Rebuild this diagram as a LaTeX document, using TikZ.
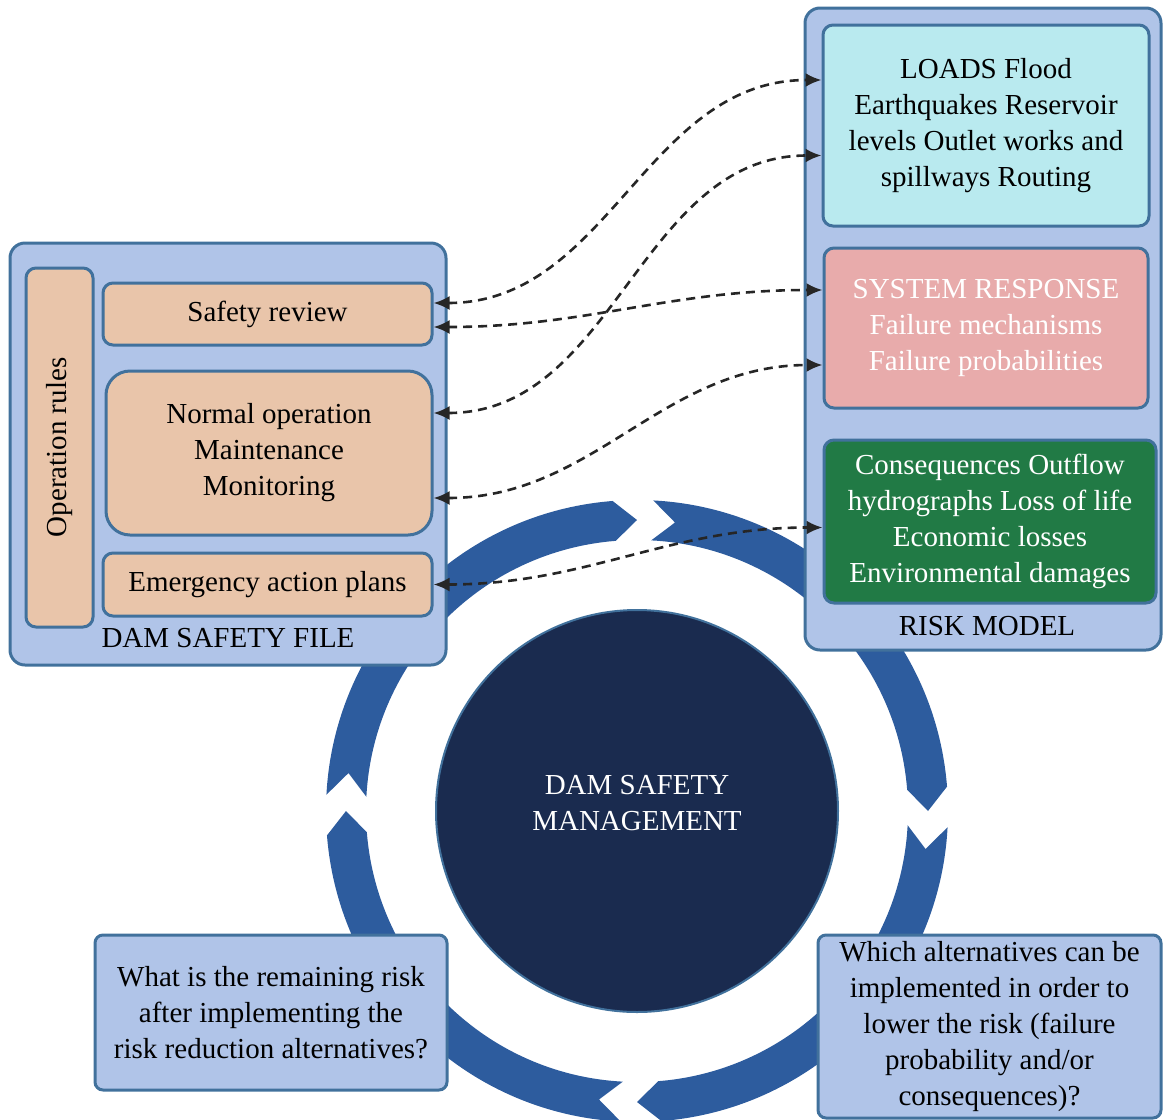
\documentclass[tikz,border=0pt]{standalone}
\usepackage{fontspec}
\setmainfont{Liberation Serif}
\usetikzlibrary{
        arrows.meta,
        positioning
    }
\definecolor{boxblue}{RGB}{176,196,232}
\definecolor{edgeblue}{RGB}{65,113,156}
\definecolor{tan}{RGB}{233,197,170}
\definecolor{loadcyan}{RGB}{185,234,239}
\definecolor{respink}{RGB}{232,171,171}
\definecolor{consgreen}{RGB}{33,122,69}
\definecolor{ringblue}{RGB}{45,92,158}
\definecolor{navy}{RGB}{26,43,79}
\tikzset{auto,node distance=1cm}
\tikzset{box/.style={draw=edgeblue,line width=1.5pt,rounded corners=5pt,inner sep=0pt,align=center,font=\fontsize{14.5}{18}\selectfont}}
\tikzset{frame/.style={box,fill=boxblue,rounded corners=7.5pt}}
\tikzset{task/.style={box,fill=tan}}
\tikzset{dashline/.style={dash pattern=on 4.5pt off 3pt,line width=1.3pt,black!85,
    {Latex[length=8pt,width=7pt]}-{Latex[length=8pt,width=7pt]}}}

\begin{document}
\begin{tikzpicture}[x=0.5pt,y=0.5pt]
                \useasboundingbox (0,0) rectangle (1163,-1120);
                % ring of four chevron arrows
                \begin{scope}[shift={(637,-811)}]
                \foreach \e in {90,0,-90,-180}
                    \fill[ringblue] ({\e+87}:311) arc[start angle=\e+87,end angle=\e+4.5,radius=311]
                        -- (\e:291) -- ({\e+4.5}:271) arc[start angle=\e+4.5,end angle=\e+87,radius=271]
                        -- ({\e+82.5}:291) -- cycle;
                \end{scope}
                \node[circle,fill=navy,draw=edgeblue,line width=1pt,minimum size=201pt] (dsm) at (637,-811) {};
                \node[align=center,text=white,font=\fontsize{14.5}{18}\selectfont] (dsmtext) at (637,-803) {DAM SAFETY\\MANAGEMENT};
                % dam safety file
                \node[frame,minimum width=218pt,minimum height=211pt] (dsf) at (228,-454) {};
                \node[task,rotate=90,minimum width=179.5pt,minimum height=33.5pt] (oprules) at (59.5,-447.5) {Operation rules};
                \node[task,minimum width=164.5pt,minimum height=31pt] (sr) at (267.5,-314) {Safety review};
                \node[task,rounded corners=12pt,minimum width=163pt,minimum height=82pt,below=11.5pt of sr,xshift=0.75pt] (nop) {Normal operation\\Maintenance\\Monitoring};
                \node[task,minimum width=164.5pt,minimum height=31.5pt,below=7.5pt of nop,xshift=-0.75pt] (eap) {Emergency action plans};
                \node[font=\fontsize{14.5}{18}\selectfont] (dsflabel) at (228,-638) {DAM SAFETY FILE};
                % risk model
                \node[frame,minimum width=178pt,minimum height=321pt] (rm) at (983,-329) {};
                \node[box,fill=loadcyan,minimum width=163pt,minimum height=100.5pt] (loads) at (986,-125.5) {LOADS Flood\\Earthquakes Reservoir\\levels Outlet works and\\spillways Routing};
                \node[box,fill=respink,text=white,minimum width=162pt,minimum height=80pt,below=9.5pt of loads] (resp) {SYSTEM RESPONSE\\Failure mechanisms\\Failure probabilities};
                \node[box,fill=consgreen,text=white,minimum width=166pt,minimum height=81.5pt,below=14.5pt of resp,xshift=2pt] (cons) {Consequences Outflow\\hydrographs Loss of life\\Economic losses\\Environmental damages};
                \node[font=\fontsize{14.5}{18}\selectfont] (rmlabel) at (987,-626) {RISK MODEL};
                % questions
                \node[frame,rounded corners=4pt,minimum width=176pt,minimum height=77.5pt] (q1) at (271,-1012.5) {What is the remaining risk\\after implementing the\\risk reduction alternatives?};
                \node[frame,rounded corners=4pt,minimum width=171.5pt,minimum height=91.5pt] (q2) at (989.5,-1026.5) {Which alternatives can be\\implemented in order to\\lower the risk (failure\\probability and/or\\consequences)?};
                \path[dashline]
                    ([yshift=5.5pt]sr.east) edge[out=0,in=180] ([yshift=22.75pt]loads.west)
                    ([yshift=20pt]nop.east) edge[out=0,in=180] ([yshift=-15pt]loads.west)
                    ([yshift=-6.5pt]sr.east) edge[out=0,in=180] ([yshift=19pt]resp.west)
                    ([yshift=-22.5pt]nop.east) edge[out=0,in=180] ([yshift=-18.5pt]resp.west)
                    (eap.east) edge[out=0,in=180] ([yshift=-3pt]cons.west)
                ;
            \end{tikzpicture}
\end{document}
